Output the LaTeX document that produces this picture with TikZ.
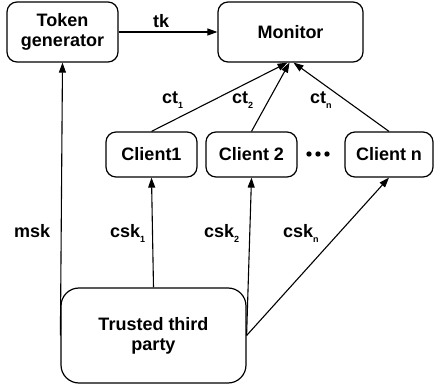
\documentclass[tikz,border=0pt]{standalone}
\usepackage{fontspec}
\setmainfont{Liberation Sans}
\usetikzlibrary{arrows.meta}
\newcommand\mysub[1]{\raisebox{-5pt}{\fontsize{9}{9}\selectfont #1}}
\begin{document}
\begin{tikzpicture}[x=1pt,y=-1pt,
  box/.style={draw,line width=1.2pt,rounded corners=10pt,align=center,inner sep=0pt,
    font=\fontsize{18}{20}\selectfont\bfseries},
  lbl/.style={anchor=base west,inner sep=0pt,font=\fontsize{18}{20}\selectfont\bfseries},
  arr/.style={line width=1.1pt,-{Triangle[length=10pt,width=7pt]}}]
\useasboundingbox (0,0) rectangle (434,390);
\node[box,minimum width=111pt,minimum height=60pt] (tg) at (62.5,32) {Token\\generator};
\node[box,minimum width=145pt,minimum height=60pt] (mon) at (290.5,32) {Monitor};
\node[box,minimum width=91pt,minimum height=45pt] (c1) at (151.5,154.5) {Client1};
\node[box,minimum width=91pt,minimum height=45pt] (c2) at (251.5,154.5) {Client 2};
\node[box,minimum width=88pt,minimum height=45pt] (cn) at (389,154.5) {Client n};
\node[box,rounded corners=18pt,minimum width=185pt,minimum height=95pt] (ttp) at (153.5,335.5) {Trusted third\\party};
\foreach \x in {309,318,327} \fill (\x,154) circle (2.7pt);
\draw[arr] (tg) -- (mon);
\draw[arr] (c1.north) -- ([xshift=-3pt]mon.south);
\draw[arr] (c2.north) -- ([xshift=-1pt]mon.south);
\draw[arr] (cn.north) -- ([xshift=3pt]mon.south);
\draw[arr] (ttp.west) -- (tg.south);
\draw[arr] (ttp.north) -- (c1.south);
\draw[arr] (ttp.east) -- (c2.south);
\draw[arr] (ttp.east) -- (cn.south);
\node[lbl] (ltk) at (153,28) {tk};
\node[lbl] (lct1) at (162,104) {ct\mysub{1}};
\node[lbl] (lct2) at (232,104) {ct\mysub{2}};
\node[lbl] (lctn) at (310,104) {ct\mysub{n}};
\node[lbl] (lmsk) at (14,238) {msk};
\node[lbl] (lcsk1) at (110,238) {csk\mysub{1}};
\node[lbl] (lcsk2) at (204,238) {csk\mysub{2}};
\node[lbl] (lcskn) at (283,238) {csk\mysub{n}};
\end{tikzpicture}
\end{document}
